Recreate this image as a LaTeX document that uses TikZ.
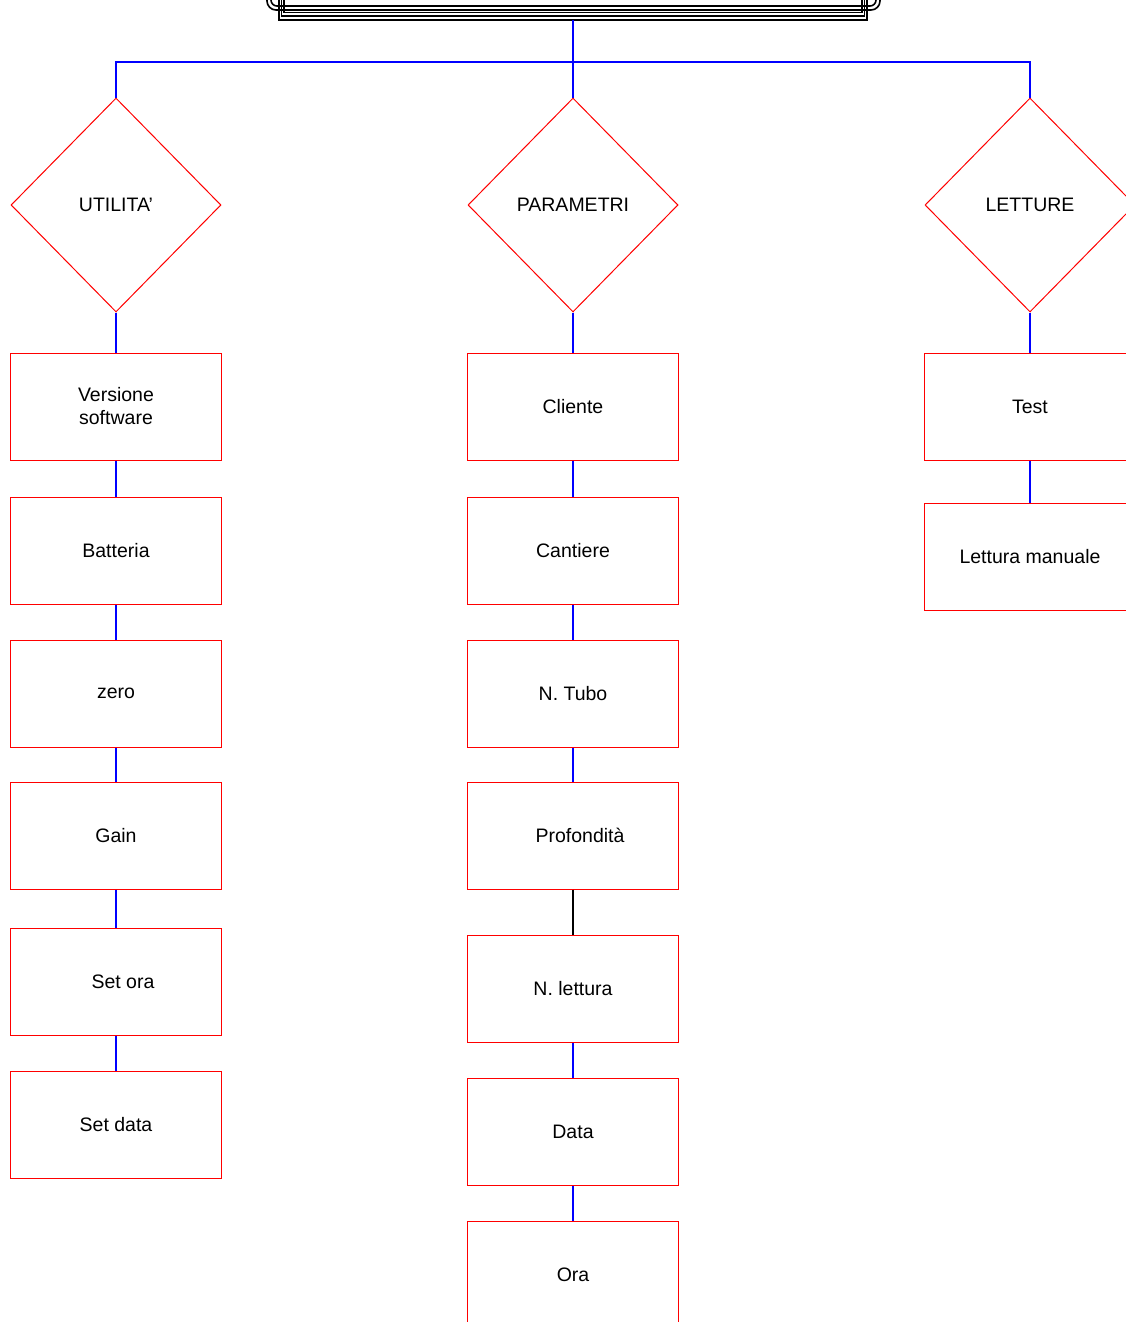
\documentclass[tikz,border=0pt]{standalone}
\usepackage{fontspec}
\setmainfont{Liberation Sans}
\usetikzlibrary{shapes.geometric}
\definecolor{lred}{RGB}{255,0,0}
\definecolor{lblue}{RGB}{0,0,255}
\tikzset{
  menubox/.style={draw=lred, line width=1pt, rectangle, minimum width=211pt, minimum height=107pt, inner sep=0pt, align=center, font=\fontsize{19.5}{23}\selectfont},
  menudia/.style={draw=lred, line width=1pt, diamond, minimum width=210pt, minimum height=214pt, inner sep=0pt, font=\fontsize{19.5}{23}\selectfont},
  link/.style={draw=lblue, line width=2.2pt},
  blink/.style={draw=black, line width=2.2pt},
  frame/.style={draw=black, line width=1.6pt}
}
\begin{document}
\begin{tikzpicture}[x=1pt,y=-1pt]
\useasboundingbox (0,0) rectangle (1126,1322);
% title box (cut off at top)
\draw[frame,rounded corners=9pt] (267,-30) -- (267,10) -- (880,10) -- (880,-30);
\draw[frame,rounded corners=6pt] (271,-30) -- (271,6) -- (876,6) -- (876,-30);
\draw[frame] (279,-30) -- (279,20) -- (867,20) -- (867,-30);
\draw[frame] (281.5,-30) -- (281.5,16) -- (864.5,16) -- (864.5,-30);
\draw[frame] (284,-30) -- (284,12.5) -- (862,12.5) -- (862,-30);
\coordinate (titlebottom) at (573,20);
\coordinate (bus) at (573,62);

% diamonds
\node[menudia] (ud) at (116,205) {UTILITA'};
\node[menudia] (pd) at (573,205) {PARAMETRI};
\node[menudia] (ld) at (1030,205) {LETTURE};

% column 1
\node[menubox] (u1) at (116,406.5) {Versione\\software};
\node[menubox] (u2) at (116,550.5) {Batteria};
\node[menubox] (u3) at (116,693.5) {zero};
\node[menubox] (u4) at (116,835.5) {Gain};
\node[menubox] (u5) at (116,981.5) {\hspace*{14pt}Set ora};
\node[menubox] (u6) at (116,1124.5) {Set data};

% column 2
\node[menubox] (p1) at (573,406.5) {Cliente};
\node[menubox] (p2) at (573,550.5) {Cantiere};
\node[menubox] (p3) at (573,693.5) {N. Tubo};
\node[menubox] (p4) at (573,835.5) {\hspace*{14pt}Profondità};
\node[menubox] (p5) at (573,988.5) {N. lettura};
\node[menubox] (p6) at (573,1131.5) {Data};
\node[menubox] (p7) at (573,1274.5) {Ora};

% column 3
\node[menubox] (l1) at (1030,406.5) {Test};
\node[menubox] (l2) at (1030,556.5) {Lettura manuale};

% connectors
\draw[link] (titlebottom) -- (pd.north);
\draw[link] (ud.north) -- (ud.north |- bus) -- (ld.north |- bus) -- (ld.north);
\draw[link] (ud.south) -- (u1.north);
\draw[link] (pd.south) -- (p1.north);
\draw[link] (ld.south) -- (l1.north);
\draw[link] (u1) -- (u2);
\draw[link] (u2) -- (u3);
\draw[link] (u3) -- (u4);
\draw[link] (u4) -- (u5);
\draw[link] (u5) -- (u6);
\draw[link] (p1) -- (p2);
\draw[link] (p2) -- (p3);
\draw[link] (p3) -- (p4);
\draw[blink] (p4) -- (p5);
\draw[link] (p5) -- (p6);
\draw[link] (p6) -- (p7);
\draw[link] (l1) -- (l2);
\end{tikzpicture}
\end{document}
